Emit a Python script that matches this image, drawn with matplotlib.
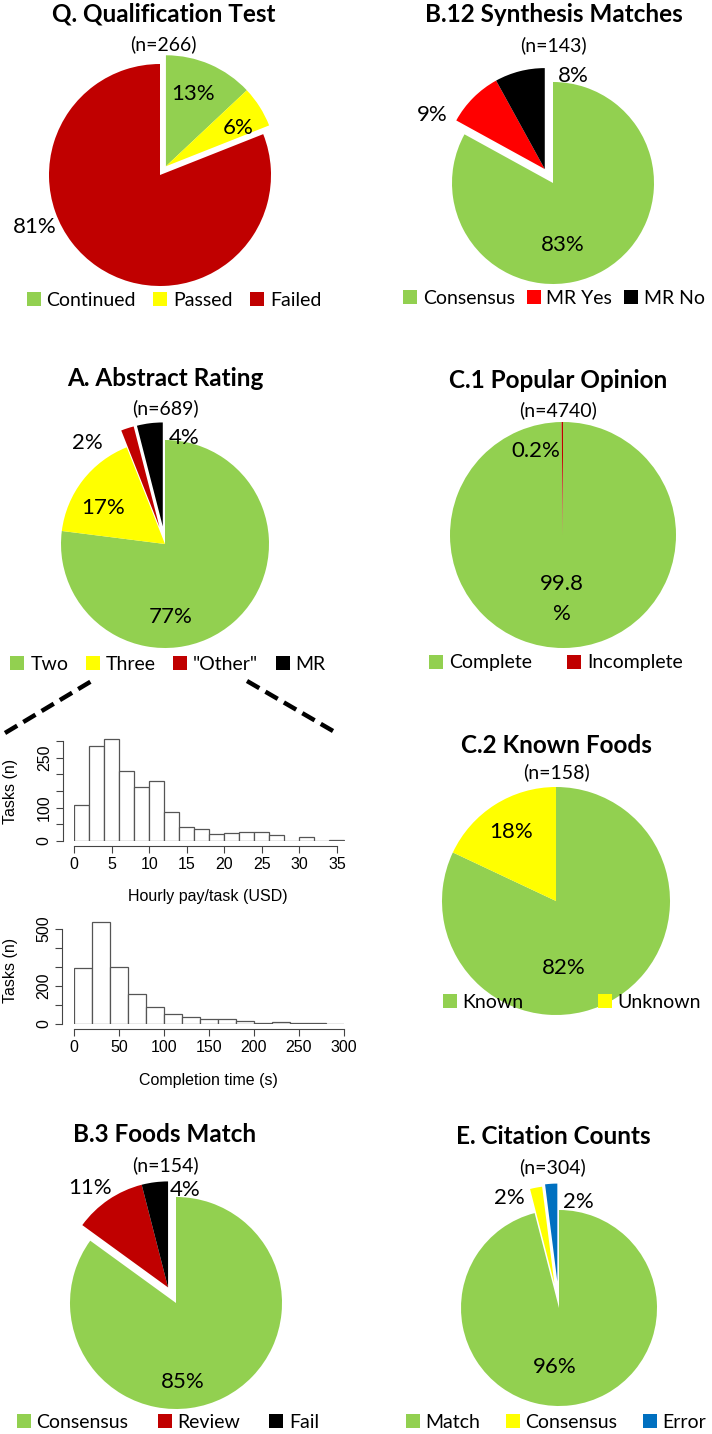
import numpy as np
import matplotlib
matplotlib.use("Agg")
import matplotlib.pyplot as plt
from matplotlib.patches import Patch
from matplotlib.lines import Line2D

# ---------------- data ----------------
q_labels = ["Continued", "Passed", "Failed"]
q_values = [13, 6, 81]
q_n = 266

b12_labels = ["Consensus", "MR Yes", "MR No"]
b12_values = [83, 9, 8]
b12_n = 143

a_labels = ["Two", "Three", '"Other"', "MR"]
a_values = [77, 17, 2, 4]
a_n = 689

c1_labels = ["Complete", "Incomplete"]
c1_values = [99.8, 0.2]
c1_n = 4740

c2_labels = ["Known", "Unknown"]
c2_values = [82, 18]
c2_n = 158

b3_labels = ["Consensus", "Review", "Fail"]
b3_values = [85, 11, 4]
b3_n = 154

e_labels = ["Match", "Consensus", "Error"]
e_values = [96, 2, 2]
e_n = 304

pay_bins = list(range(0, 37, 2))
pay_counts = [107, 285, 305, 210, 162, 181, 86, 41, 35, 20, 24, 28, 28, 18, 0, 12, 0, 2]
time_bins = list(range(0, 301, 20))
time_counts = [292, 533, 301, 157, 89, 51, 37, 26, 24, 14, 3, 8, 5, 3, 2]

# ---------------- style ----------------
GREEN = "#92D050"
YELLOW = "#FFFF00"
DRED = "#C00000"
RED = "#FF0000"
BLACK = "#000000"
BLUE = "#0070C0"

W, H = 712, 1434
fig = plt.figure(figsize=(W / 100, H / 100), dpi=100)
PIEFONT = ["Lato", "DejaVu Sans"]
HISTFONT = ["Liberation Sans", "DejaVu Sans"]

TITLE_FS = 17.5
N_FS = 14
PCT_FS = 16
LEG_FS = 14
HIST_FS = 11.5


def fx(x):
    return x / W


def fy(y):
    return 1 - y / H


def pie_panel(values, labels, colors, n, title, cx, cy, r, groups,
              pct_pos, pct_text, title_xy, n_xy, leg_xy, colsp=1.0):
    R = 1.7 * r
    ax = fig.add_axes([fx(cx - R), fy(cy + R), 2 * R / W, 2 * R / H])
    wedges, _ = ax.pie(values, colors=colors, startangle=90, counterclock=False,
                       wedgeprops=dict(linewidth=0))
    # explode groups of wedges together
    total = float(sum(values))
    cum = np.concatenate([[0], np.cumsum(values)]) / total
    for idx, dist in groups:
        a0 = 90 - 360 * cum[idx[0]]
        a1 = 90 - 360 * cum[idx[-1] + 1]
        mid = np.deg2rad((a0 + a1) / 2)
        for i in idx:
            wedges[i].set_center((dist * np.cos(mid), dist * np.sin(mid)))
    ax.set_xlim(-1.7, 1.7)
    ax.set_ylim(-1.7, 1.7)
    ax.set_aspect("equal")
    ax.axis("off")
    for (px, py), t in zip(pct_pos, pct_text):
        ax.text((px - cx) / r, -(py - cy) / r, t, ha="center", va="center",
                fontsize=PCT_FS, family=PIEFONT, clip_on=False, linespacing=1.6)
    fig.text(fx(title_xy[0]), fy(title_xy[1]), title, ha="center", va="center",
             fontsize=TITLE_FS, fontweight="bold", family=PIEFONT)
    fig.text(fx(n_xy[0]), fy(n_xy[1]), f"(n={n})", ha="center", va="center",
             fontsize=N_FS, family=PIEFONT)
    handles = [Patch(facecolor=c, edgecolor="none") for c in colors]
    fig.legend(handles, labels, loc="center",
               bbox_to_anchor=(fx(leg_xy[0]), fy(leg_xy[1])),
               ncol=len(labels), frameon=False, handlelength=0.72,
               handleheight=0.72, handletextpad=0.3, columnspacing=colsp,
               borderpad=0, borderaxespad=0,
               prop=dict(family=PIEFONT, size=LEG_FS))
    return ax


def pct(v):
    return f"{v:g}%"


# Q
pie_panel(q_values, q_labels, [GREEN, YELLOW, DRED], q_n, "Q. Qualification Test",
          160, 175, 111, [([0, 1], 0.095)],
          [(193, 94), (238, 128), (35, 227)], [pct(v) for v in q_values],
          (164, 14), (163, 44), (174, 300), colsp=0.9)

# B.12
pie_panel(b12_values, b12_labels, [GREEN, RED, BLACK], b12_n, "B.12 Synthesis Matches",
          553, 183, 101, [([1, 2], 0.16)],
          [(563, 245), (432, 115), (573, 76)], [pct(v) for v in b12_values],
          (554, 15), (553, 45), (554, 298), colsp=0.6)

# A
pie_panel(a_values, a_labels, [GREEN, YELLOW, DRED, BLACK], a_n, "A. Abstract Rating",
          165, 544, 104, [([2], 0.17), ([3], 0.17)],
          [(171, 617), (103, 508), (87, 443), (184, 438)], [pct(v) for v in a_values],
          (165, 378), (165, 408), (168, 664), colsp=0.9)

# C.1
pie_panel(c1_values, c1_labels, [GREEN, DRED], c1_n, "C.1 Popular Opinion",
          563, 535, 113, [],
          [(562, 599), (536, 451)], ["99.8\n%", pct(c1_values[1])],
          (558, 380), (558, 410), (556, 663), colsp=1.8)

# C.2
pie_panel(c2_values, c2_labels, [GREEN, YELLOW], c2_n, "C.2 Known Foods",
          556, 901, 114, [],
          [(564, 968), (511, 832)], [pct(v) for v in c2_values],
          (556, 745), (556, 772), (572, 1002), colsp=3.8)

# B.3
pie_panel(b3_values, b3_labels, [GREEN, DRED, BLACK], b3_n, "B.3 Foods Match",
          176, 1303, 106, [([1, 2], 0.165)],
          [(183, 1382), (90, 1188), (185, 1190)], [pct(v) for v in b3_values],
          (165, 1135), (165, 1165), (168, 1422), colsp=1.5)

# E
pie_panel(e_values, e_labels, [GREEN, YELLOW, BLUE], e_n, "E. Citation Counts",
          559, 1308, 98, [([1], 0.25), ([2], 0.27)],
          [(555, 1367), (509, 1198), (578, 1202)], [pct(v) for v in e_values],
          (553, 1137), (553, 1167), (556, 1422), colsp=1.3)


# ---------------- histograms ----------------
def hist_panel(bins, counts, x0px, x1px, y0px, ypx_per_unit, ylim_top,
               yticks, ylabels_shown, xticks, xbound, ybound,
               left_out, bottom_out, xlabel, xlabel_xy, ylabel_xy):
    top_px = y0px - ylim_top * ypx_per_unit
    ax = fig.add_axes([fx(x0px), fy(y0px), (x1px - x0px) / W, (y0px - top_px) / H])
    ax.hist(bins[:-1], bins=bins, weights=counts, color="white",
            edgecolor="#555555", linewidth=0.9)
    ax.set_xlim(bins[0], bins[-1])
    ax.set_ylim(0, ylim_top)
    for s in ["top", "right"]:
        ax.spines[s].set_visible(False)
    ax.spines["left"].set_position(("outward", left_out))
    ax.spines["bottom"].set_position(("outward", bottom_out))
    ax.spines["left"].set_bounds(*ybound)
    ax.spines["bottom"].set_bounds(*xbound)
    for s in ["left", "bottom"]:
        ax.spines[s].set_color("#444444")
        ax.spines[s].set_linewidth(0.8)
    ax.set_xticks(xticks)
    ax.set_xticklabels([str(t) for t in xticks], family=HISTFONT, fontsize=HIST_FS)
    ax.set_yticks(yticks)
    ax.set_yticklabels([str(t) if t in ylabels_shown else "" for t in yticks],
                       family=HISTFONT, fontsize=HIST_FS, rotation=90, va="center")
    ax.tick_params(axis="both", length=5, width=0.8, color="#444444", pad=3)
    fig.text(fx(xlabel_xy[0]), fy(xlabel_xy[1]), xlabel, ha="center", va="center",
             family=HISTFONT, fontsize=HIST_FS)
    fig.text(fx(ylabel_xy[0]), fy(ylabel_xy[1]), "Tasks (n)", ha="center", va="center",
             family=HISTFONT, fontsize=HIST_FS, rotation=90)
    return ax


hist_panel(pay_bins, pay_counts, 74, 344.5, 841, 1 / 3.0, 310,
           [0, 50, 100, 150, 200, 250, 300], [0, 100, 250],
           [0, 5, 10, 15, 20, 25, 30, 35], (0, 35), (0, 300),
           8, 3.6, "Hourly pay/task (USD)", (208, 897), (11, 791))

hist_panel(time_bins, time_counts, 74, 344, 1024, 95.3 / 500, 545,
           [0, 100, 200, 300, 400, 500], [0, 200, 500],
           [0, 50, 100, 150, 200, 250, 300], (0, 300), (0, 500),
           8.6, 3.6, "Completion time (s)", (208, 1080), (11, 970))

# dashed zoom connectors
for (xa, ya), (xb, yb) in [((5, 733), (95, 679)), ((247, 681), (333, 731))]:
    fig.add_artist(Line2D([fx(xa), fx(xb)], [fy(ya), fy(yb)], transform=fig.transFigure,
                          color="black", linewidth=3.2, dashes=(3.2, 1.6)))

fig.savefig("out.png", dpi=100, facecolor="white")
